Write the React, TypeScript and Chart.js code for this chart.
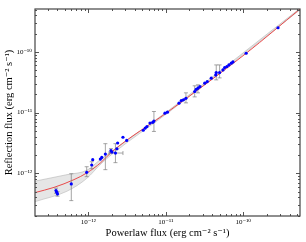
import React, { useEffect, useRef } from 'react';
import { Chart, registerables } from 'chart.js';

Chart.register(...registerables);

// Observed data (erg cm^-2 s^-1)
const powerlawFlux = [
  3.83e-13, 3.91e-13, 4.0e-13, 6.03e-13, 9.53e-13, 1.106e-12, 1.14e-12, 1.43e-12, 1.49e-12, 1.66e-12,
  1.96e-12, 2.02e-12, 2.24e-12, 2.34e-12, 2.39e-12, 2.8e-12, 3.13e-12, 5.12e-12, 5.43e-12, 5.71e-12,
  6.25e-12, 6.78e-12, 7.03e-12, 9.75e-12, 1.05e-11, 1.48e-11, 1.585e-11, 1.69e-11, 1.82e-11, 2.36e-11,
  2.47e-11, 2.6e-11, 2.76e-11, 3.18e-11, 3.43e-11, 3.86e-11, 4.41e-11, 4.48e-11, 4.95e-11, 5.47e-11,
  5.75e-11, 6.15e-11, 6.53e-11, 7.0e-11, 7.36e-11, 1.09e-10, 2.81e-10,
];
const reflectionFlux = [
  5.19e-13, 4.86e-13, 4.57e-13, 6.68e-13, 1.04e-12, 1.371e-12, 1.68e-12, 1.72e-12, 1.83e-12, 2.08e-12,
  2.36e-12, 2.24e-12, 2.16e-12, 2.54e-12, 3.16e-12, 3.93e-12, 3.48e-12, 5.13e-12, 5.57e-12, 5.9e-12,
  6.73e-12, 6.93e-12, 7.26e-12, 9.82e-12, 1.02e-11, 1.435e-11, 1.58e-11, 1.63e-11, 1.72e-11, 2.23e-11,
  2.42e-11, 2.535e-11, 2.69e-11, 3.06e-11, 3.25e-11, 3.7e-11, 4.19e-11, 4.57e-11, 4.57e-11, 5.07e-11,
  5.53e-11, 5.74e-11, 6.12e-11, 6.53e-11, 6.85e-11, 9.53e-11, 2.51e-10,
];

// Error bars (by point index)
const yErrIndex = [0, 2, 3, 4, 5, 9, 10, 12, 22, 28, 29, 31, 37, 38];
const yErrLow = [4.7e-13, 4.2e-13, 3.55e-13, 8.81e-13, 1.19e-12, 1.15e-12, 2.2e-12, 1.5e-12, 4.9e-12, 1.45e-11, 1.82e-11, 2.12e-11, 3.47e-11, 3.74e-11];
const yErrHigh = [5.7e-13, 5.0e-13, 9.86e-13, 1.285e-12, 1.55e-12, 3.08e-12, 2.55e-12, 3.08e-12, 1.045e-11, 2.12e-11, 2.77e-11, 2.87e-11, 6.12e-11, 6.12e-11];
const xErrIndex = [12];
const xErrLow = [1.85e-12];
const xErrHigh = [2.8e-12];

// Best-fit relation
const fitX = [2.05e-13, 3.61e-13, 6.53e-13, 9.7e-13, 1.445e-12, 2.02e-12, 1.067e-11, 1.084e-10, 5.4e-10];
const fitY = [4.81e-13, 5.87e-13, 7.87e-13, 1.026e-12, 1.496e-12, 2.27e-12, 1.033e-11, 9.46e-11, 5.11e-10];

// Confidence band
const bandX = [2.05e-13, 5.31e-13, 9.62e-13, 1.416e-12, 2.08e-12, 1.067e-11, 5.4e-10];
const bandUpper = [7.43e-13, 9.51e-13, 1.127e-12, 1.67e-12, 2.39e-12, 1.07e-11, 5.25e-10];
const bandLower = [3.42e-13, 5.08e-13, 8.32e-13, 1.384e-12, 2.13e-12, 9.93e-12, 4.95e-10];

// Axes
const xMin = 2.05e-13;
const xMax = 5.4e-10;
const yMin = 1.98e-13;
const yMax = 5.11e-10;
const xTickValues = [1e-12, 1e-11, 1e-10];
const xTickLabels = ['10⁻¹²', '10⁻¹¹', '10⁻¹⁰'];
const yTickValues = [1e-12, 1e-11, 1e-10];
const yTickLabels = ['10⁻¹²', '10⁻¹¹', '10⁻¹⁰'];

const FONT = "'Liberation Serif', 'DejaVu Serif', serif";

const framePlugin = {
  id: 'frameTicks',
  afterDraw(chart: any) {
    const { ctx, chartArea } = chart;
    const xs = chart.scales.x;
    const ys = chart.scales.y;
    const { left, right, top, bottom } = chartArea;
    ctx.save();
    ctx.strokeStyle = '#555555';
    ctx.lineWidth = 1;
    ctx.beginPath();
    const decades = [-14, -13, -12, -11, -10, -9];
    decades.forEach((d) => {
      for (let m = 1; m <= 9; m++) {
        const v = m * Math.pow(10, d);
        const len = m === 1 ? 4 : 2;
        if (v >= xMin && v <= xMax) {
          const px = Math.round(xs.getPixelForValue(v)) + 0.5;
          ctx.moveTo(px, bottom);
          ctx.lineTo(px, bottom - len);
          ctx.moveTo(px, top);
          ctx.lineTo(px, top + len);
        }
        if (v >= yMin && v <= yMax) {
          const py = Math.round(ys.getPixelForValue(v)) + 0.5;
          ctx.moveTo(left, py);
          ctx.lineTo(left + len, py);
          ctx.moveTo(right, py);
          ctx.lineTo(right - len, py);
        }
      }
    });
    ctx.stroke();
    ctx.strokeStyle = '#444444';
    ctx.lineWidth = 1.2;
    ctx.strokeRect(left, top, right - left, bottom - top);
    ctx.restore();
  },
};

const errorBarPlugin = {
  id: 'errorBars',
  beforeDatasetDraw(chart: any, args: any) {
    if (args.index !== 0) return;
    const { ctx } = chart;
    const xs = chart.scales.x;
    const ys = chart.scales.y;
    ctx.save();
    ctx.strokeStyle = 'rgba(130,130,130,0.9)';
    ctx.lineWidth = 0.8;
    ctx.beginPath();
    const cap = 2;
    yErrIndex.forEach((i, k) => {
      const px = xs.getPixelForValue(powerlawFlux[i]);
      const y1 = ys.getPixelForValue(yErrLow[k]);
      const y2 = ys.getPixelForValue(yErrHigh[k]);
      ctx.moveTo(px, y1);
      ctx.lineTo(px, y2);
      ctx.moveTo(px - cap, y1);
      ctx.lineTo(px + cap, y1);
      ctx.moveTo(px - cap, y2);
      ctx.lineTo(px + cap, y2);
    });
    xErrIndex.forEach((i, k) => {
      const py = ys.getPixelForValue(reflectionFlux[i]);
      const x1 = xs.getPixelForValue(xErrLow[k]);
      const x2 = xs.getPixelForValue(xErrHigh[k]);
      ctx.moveTo(x1, py);
      ctx.lineTo(x2, py);
      ctx.moveTo(x1, py - cap);
      ctx.lineTo(x1, py + cap);
      ctx.moveTo(x2, py - cap);
      ctx.lineTo(x2, py + cap);
    });
    ctx.stroke();
    ctx.restore();
  },
};

export default function App() {
  const canvasRef = useRef<HTMLCanvasElement | null>(null);

  useEffect(() => {
    if (!canvasRef.current) return;
    const chart = new Chart(canvasRef.current, {
      type: 'scatter',
      data: {
        datasets: [
          {
            type: 'scatter',
            data: powerlawFlux.map((x, i) => ({ x, y: reflectionFlux[i] })),
            pointRadius: 1.6,
            pointBackgroundColor: '#0000ff',
            pointBorderWidth: 0,
            order: 0,
          } as any,
          {
            type: 'line',
            data: fitX.map((x, i) => ({ x, y: fitY[i] })),
            borderColor: '#e84a4a',
            borderWidth: 1,
            pointRadius: 0,
            cubicInterpolationMode: 'monotone',
            fill: false,
            order: 1,
          } as any,
          {
            type: 'line',
            data: bandX.map((x, i) => ({ x, y: bandUpper[i] })),
            borderColor: 'rgba(150,150,150,0.7)',
            borderWidth: 0.6,
            backgroundColor: 'rgba(200,200,200,0.45)',
            pointRadius: 0,
            cubicInterpolationMode: 'monotone',
            fill: '+1',
            order: 2,
          } as any,
          {
            type: 'line',
            data: bandX.map((x, i) => ({ x, y: bandLower[i] })),
            borderColor: 'rgba(150,150,150,0.7)',
            borderWidth: 0.6,
            pointRadius: 0,
            cubicInterpolationMode: 'monotone',
            fill: false,
            order: 3,
          } as any,
        ],
      },
      options: {
        animation: false,
        responsive: true,
        maintainAspectRatio: false,
        devicePixelRatio: 1,
        layout: { padding: { top: 9, right: 6, left: 0, bottom: 0 } },
        plugins: { legend: { display: false }, tooltip: { enabled: false } },
        scales: {
          x: {
            type: 'logarithmic',
            min: xMin,
            max: xMax,
            grid: { display: false, drawTicks: false },
            border: { display: false },
            ticks: {
              autoSkip: false,
              maxRotation: 0,
              padding: 2,
              color: '#000',
              font: { family: FONT, size: 7 },
              callback: (v: any) => {
                const i = xTickValues.findIndex((t) => Math.abs(t - v) / t < 1e-6);
                return i >= 0 ? xTickLabels[i] : '';
              },
            },
            afterBuildTicks: (s: any) => {
              s.ticks = xTickValues.map((value) => ({ value, major: true }));
            },
            afterFit: (s: any) => {
              s.height = 26;
            },
            title: {
              display: true,
              text: 'Powerlaw flux (erg cm⁻² s⁻¹)',
              color: '#000',
              font: { family: FONT, size: 10.5 },
              padding: { top: 0, bottom: 2.7 },
            },
          },
          y: {
            type: 'logarithmic',
            min: yMin,
            max: yMax,
            grid: { display: false, drawTicks: false },
            border: { display: false },
            ticks: {
              autoSkip: false,
              padding: 3,
              color: '#000',
              font: { family: FONT, size: 7 },
              callback: (v: any) => {
                const i = yTickValues.findIndex((t) => Math.abs(t - v) / t < 1e-6);
                return i >= 0 ? yTickLabels[i] : '';
              },
            },
            afterBuildTicks: (s: any) => {
              s.ticks = yTickValues.map((value) => ({ value, major: true }));
            },
            afterFit: (s: any) => {
              s.width = 35;
            },
            title: {
              display: true,
              text: 'Reflection flux (erg cm⁻² s⁻¹)',
              color: '#000',
              font: { family: FONT, size: 10.5 },
              padding: { top: 3, bottom: 0 },
            },
          },
        },
      },
      plugins: [errorBarPlugin, framePlugin],
    } as any);
    return () => chart.destroy();
  }, []);

  return (
    <div style={{ position: 'fixed', left: 0, top: 0, width: 306, height: 242, background: '#fff' }}>
      <canvas ref={canvasRef} />
    </div>
  );
}
